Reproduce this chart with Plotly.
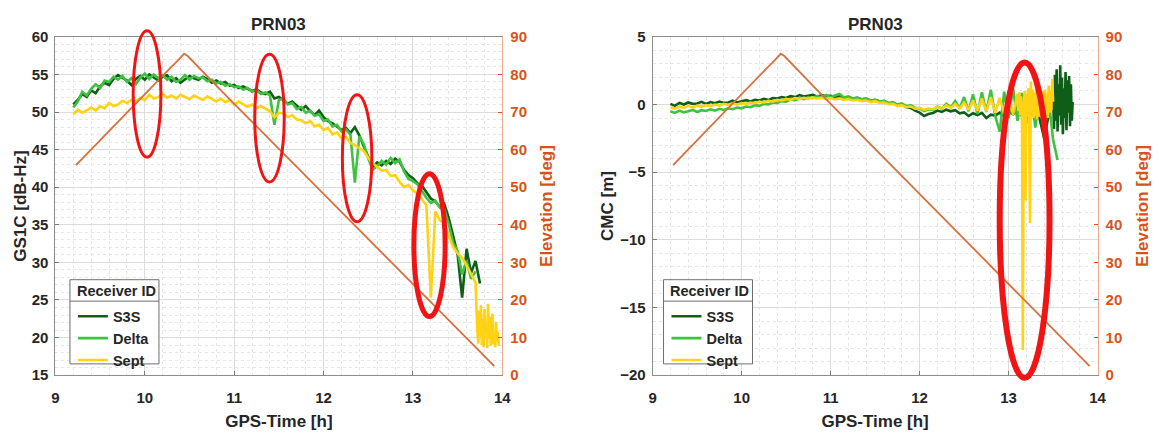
import plotly.graph_objects as go

# ---------------- data ----------------
# sample grids: (start time [h], sampling step [h], values)
GS_S3S = [(9.20, 0.05, [
    51.0, 51.6, 52.4, 52.0, 52.9, 52.5, 53.4, 53.9, 53.6, 54.4,
    54.9, 54.5, 54.2, 53.6, 54.4, 54.8, 54.3, 55.0, 54.6, 54.2,
    54.7, 54.9, 54.1, 54.5, 53.9, 54.4, 54.8, 54.5, 54.3, 54.7,
    54.4, 53.9, 54.2, 53.8, 54.0, 53.5, 53.6, 53.2, 53.4, 53.1,
    52.8, 53.0, 52.6, 52.4, 52.7, 51.8, 52.0, 51.6, 51.1, 51.4,
    50.9, 50.3, 50.8, 50.1, 49.6, 50.2, 49.3, 48.8, 48.5, 48.0,
    47.6, 47.9, 47.2, 48.0, 46.9, 45.4, 44.0, 42.7, 43.3, 42.9,
    43.5, 43.1, 43.8, 43.4, 42.3, 41.6, 41.2, 40.5, 40.2, 39.3,
    38.5, 38.1, 37.4, 37.8, 35.9, 33.5, 31.0, 25.3, 31.8, 28.6,
    30.2, 27.2])]
GS_DELTA = [(9.20, 0.05, [
    50.6, 51.4, 52.7, 52.2, 53.1, 53.7, 53.2, 54.2, 54.0, 54.7,
    54.3, 54.8, 54.0, 54.5, 53.7, 54.6, 55.1, 54.4, 55.0, 54.5,
    54.9, 54.3, 54.7, 54.0, 54.3, 54.9, 54.3, 54.8, 54.5, 54.6,
    54.1, 54.3, 53.8, 54.0, 53.5, 53.7, 53.3, 53.4, 53.0, 53.2,
    52.7, 52.9, 52.4, 52.6, 52.2, 48.3, 51.6, 51.8, 51.0, 51.2,
    50.4, 50.7, 49.9, 50.2, 49.5, 49.7, 48.8, 49.0, 48.1, 48.3,
    47.4, 47.7, 47.0, 40.6, 46.8, 45.7, 43.8, 42.3, 42.8, 43.5,
    43.0, 43.9, 43.2, 43.7, 42.1, 41.1, 40.8, 40.4, 39.5, 38.6,
    37.9, 38.2, 37.3, 37.1, 35.1, 32.6, 31.5, 28.4, 30.2, 27.8,
    28.8])]
GS_SEPT = [(9.20, 0.05, [
    49.7, 50.3, 49.9, 50.2, 50.6, 50.2, 50.8, 50.5, 51.2, 50.8,
    51.0, 51.5, 51.2, 51.6, 51.4, 51.9, 51.6, 52.3, 51.8, 52.0,
    52.4, 51.9, 52.2, 51.8, 52.3, 52.0, 51.7, 52.2, 51.9, 51.6,
    52.1, 51.7, 51.4, 51.8, 51.3, 51.6, 51.0, 51.4, 51.1, 50.7,
    51.0, 50.5, 50.8, 50.4, 50.1, 49.3, 49.9, 49.8, 49.3, 49.6,
    49.0, 48.9, 48.5, 48.8, 48.1, 48.3, 47.6, 47.9, 47.0, 47.3,
    46.5, 46.7, 45.9, 45.6, 45.2, 44.8, 43.9, 43.2, 42.7, 42.2,
    42.3, 41.5, 41.6, 40.7, 40.0, 40.3, 39.6, 39.1, 38.4, 37.6,
    25.3, 36.8, 35.6, 35.3, 33.6, 32.0, 31.2, 30.6, 29.6, 28.4,
    27.3]),
    (13.72, 0.01, [
    21.0, 19.2, 23.6, 20.1, 24.3, 19.0, 22.5, 18.7, 23.8, 20.4, 21.9, 18.6, 24.5, 19.8, 22.8, 18.9,
    21.5, 23.2, 19.1, 20.6, 18.7, 22.1, 19.4, 20.8, 18.9])]

CMC_S3S = [(9.20, 0.05, [
    0.05, -0.10, 0.12, 0.00, 0.15, 0.05, 0.08, 0.20, 0.05, 0.18, 0.10, 0.22, 0.12, 0.15, 0.28, 0.15,
    0.25, 0.32, 0.22, 0.35, 0.30, 0.42, 0.33, 0.48, 0.45, 0.55, 0.48, 0.62, 0.55, 0.70, 0.60, 0.68,
    0.72, 0.58, 0.70, 0.62, 0.65, 0.52, 0.62, 0.48, 0.55, 0.42, 0.50, 0.38, 0.42, 0.28, 0.35, 0.22,
    0.25, 0.10, 0.15, -0.05, 0.02, -0.18, -0.25, -0.45, -0.60, -0.85, -0.70, -0.62, -0.45, -0.55, -0.38, -0.50,
    -0.42, -0.65, -0.58, -0.85, -0.65, -0.78, -0.62, -1.00, -0.75, -0.82, -0.60, -0.88, -0.55, -0.72, -0.45, -0.85,
    -0.40, -0.70, -0.30, -1.10, -2.50, -0.80, 0.60]),
    (13.51, 0.01, [
    -1.8, 2.2, -1.2, 2.6, -2.0, 1.5, -0.8, 2.9, -1.5, 2.0, -2.2, 1.2, -1.0, 2.4, -1.9, 1.8,
    -0.6, 2.1, -1.6, 1.5, -1.2, 0.2])]
CMC_DELTA = [(9.20, 0.05, [
    -0.50, -0.62, -0.45, -0.58, -0.50, -0.40, -0.55, -0.42, -0.48, -0.35, -0.45, -0.32, -0.40, -0.28, -0.35, -0.22,
    -0.28, -0.15, -0.20, -0.05, -0.10, 0.05, 0.00, 0.15, 0.12, 0.25, 0.22, 0.38, 0.32, 0.45, 0.40, 0.55,
    0.48, 0.62, 0.52, 0.70, 0.55, 0.65, 0.78, 0.52, 0.60, 0.45, 0.52, 0.38, 0.45, 0.30, 0.35, 0.22,
    0.28, 0.10, 0.18, 0.00, 0.08, -0.12, -0.05, -0.25, -0.30, -0.48, -0.35, -0.40, -0.15, -0.30, 0.05, -0.20,
    0.25, -0.30, 0.55, -0.50, 0.75, -0.70, 0.90, -0.55, 1.10, -0.85, -2.00, 0.95, -1.00, 1.20, -1.20, 0.85,
    -1.40, 1.00, -1.70, 0.70, -2.10, 0.40, -2.60, -4.10])]
CMC_SEPT = [(9.20, 0.05, [
    -0.20, -0.30, -0.15, -0.25, -0.10, -0.22, -0.08, -0.15, -0.05, -0.12, 0.00, -0.08, 0.05, -0.02, 0.08, 0.00,
    0.10, 0.05, 0.15, 0.10, 0.22, 0.15, 0.28, 0.22, 0.35, 0.30, 0.42, 0.35, 0.48, 0.40, 0.50, 0.42,
    0.52, 0.45, 0.50, 0.40, 0.48, 0.38, 0.45, 0.35, 0.40, 0.30, 0.35, 0.25, 0.30, 0.18, 0.25, 0.12,
    0.15, 0.02, 0.05, -0.10, -0.05, -0.20, -0.15, -0.30, -0.25, -0.40, -0.30, -0.35, -0.15, -0.30, -0.05, -0.25,
    0.05, -0.30, 0.15, -0.40, 0.30, -0.45, 0.45, -0.50, 0.55, -0.60, 0.50, -0.70, 0.65, -0.75, 0.80]),
    (13.11, 0.01, [
    -0.5, 0.9, -0.8, 0.6, -0.6, -18.15, -0.4, 1.0, -7.1, 0.8, -0.9, 1.2, -0.7, -8.76, 1.7, -0.6,
    1.1, -1.0, 0.9, -0.8, 1.2, -1.1, 0.7, -0.9, 1.3, -0.5, 0.9, -1.2, 1.0, -0.7, 1.1, -0.9,
    0.8, -1.0, 1.4, -0.6, 1.0, -0.4, 1.9, 0.2])]

ELEV_T = [9.23, 9.40, 9.60, 9.80, 10.00, 10.10, 10.20, 10.30, 10.36, 10.40, 10.44, 10.48, 10.52,
          10.58, 10.65, 10.80, 11.00, 11.50, 12.00, 12.50, 13.00, 13.50, 13.91]
ELEV_DEG = [55.9, 60.1, 65.0, 69.9, 74.8, 77.3, 79.8, 82.1, 83.5, 84.6, 85.5, 84.9, 83.9,
            82.3, 80.6, 77.0, 72.2, 60.2, 48.2, 36.2, 24.2, 12.2, 2.4]

RECEIVERS = ["S3S", "Delta", "Sept"]
X_TICKS = [9, 10, 11, 12, 13, 14]
GS_TICKS = [15, 20, 25, 30, 35, 40, 45, 50, 55, 60]
CMC_TICKS = [-20, -15, -10, -5, 0, 5]
ELEV_TICKS = [0, 10, 20, 30, 40, 50, 60, 70, 80, 90]

# highlighted regions (time range, value range, stroke)
GS_MARKS = [((9.87, 10.18), (44.0, 60.8), 3), ((11.23, 11.56), (40.7, 57.7), 3),
            ((12.21, 12.54), (35.4, 52.3), 3), ((13.01, 13.36), (22.8, 41.8), 5)]
CMC_MARKS = [((12.90, 13.46), (-20.2, 3.1), 6)]

# ---------------- styling ----------------
COLORS = {"S3S": "#0f5e17", "Delta": "#3fc23f", "Sept": "#ffd214"}
ELEV_COLOR = "#d8703f"
ORANGE = "#d95319"
TXT = "#262626"
FONT = "Liberation Sans"
W, H = 1159, 436
LW = 2.6


def expand(segments):
    t, v = [], []
    for start, step, vals in segments:
        for i, val in enumerate(vals):
            t.append(round(start + i * step, 4))
            v.append(val)
    return t, v


fig = go.Figure()

left = {"S3S": GS_S3S, "Delta": GS_DELTA, "Sept": GS_SEPT}
right = {"S3S": CMC_S3S, "Delta": CMC_DELTA, "Sept": CMC_SEPT}

for name in RECEIVERS:
    t, v = expand(left[name])
    fig.add_trace(go.Scatter(x=t, y=v, mode="lines", name=name, xaxis="x", yaxis="y",
                             line=dict(color=COLORS[name], width=LW), legend="legend"))
fig.add_trace(go.Scatter(x=ELEV_T, y=ELEV_DEG, mode="lines", xaxis="x", yaxis="y2",
                         line=dict(color=ELEV_COLOR, width=1.8), showlegend=False))

for name in RECEIVERS:
    t, v = expand(right[name])
    fig.add_trace(go.Scatter(x=t, y=v, mode="lines", name=name, xaxis="x2", yaxis="y3",
                             line=dict(color=COLORS[name], width=LW), legend="legend2"))
fig.add_trace(go.Scatter(x=ELEV_T, y=ELEV_DEG, mode="lines", xaxis="x2", yaxis="y4",
                         line=dict(color=ELEV_COLOR, width=1.8), showlegend=False))

# geometry in pixels
L_X = (52, 504)
R_X = (656, 1106)
Y_PX = (29, 381)
ydom = [1 - Y_PX[1] / H, 1 - Y_PX[0] / H]

tickfont = dict(family=FONT, size=15, color=TXT, weight="bold")
titlefont = dict(family=FONT, size=17, color=TXT, weight="bold")
otickfont = dict(family=FONT, size=15, color=ORANGE, weight="bold")
otitlefont = dict(family=FONT, size=17, color=ORANGE, weight="bold")


def xax(dom, anchor):
    return dict(domain=dom, anchor=anchor, range=[9, 14], tickvals=X_TICKS, ticks="inside",
                ticklen=4, tickcolor="#7a7a7a", showline=True, linecolor="#8c8c8c", mirror=True,
                showgrid=True, gridcolor="#dcdcdc", gridwidth=1, zeroline=False,
                minor=dict(dtick=0.2, showgrid=True, gridcolor="#e6e6e6", griddash="dot", ticks=""),
                tickfont=tickfont, ticklabelstandoff=9,
                title=dict(text="GPS-Time [h]", font=titlefont, standoff=9))


def yax(rng, ticks, minor, title, anchor, standoff):
    return dict(domain=ydom, anchor=anchor, range=rng, tickvals=ticks, ticks="inside",
                ticklen=4, tickcolor="#7a7a7a", showline=True, linecolor="#8c8c8c",
                showgrid=True, gridcolor="#dcdcdc", zeroline=False,
                minor=dict(dtick=minor, showgrid=True, gridcolor="#e6e6e6", griddash="dot", ticks=""),
                tickfont=tickfont, ticklabelstandoff=3,
                title=dict(text=title, font=titlefont, standoff=standoff))


def eax(overlay, anchor):
    return dict(overlaying=overlay, anchor=anchor, side="right", range=[0, 90], tickvals=ELEV_TICKS,
                ticks="inside", ticklen=4, tickcolor=ORANGE, showline=True, linecolor="#eba98c",
                showgrid=False, zeroline=False, tickfont=otickfont, ticklabelstandoff=4,
                title=dict(text="Elevation [deg]", font=otitlefont, standoff=14))


LEG_FONT = dict(family=FONT, size=14.5, color=TXT, weight="bold")
legend_common = dict(yanchor="top", xanchor="left", bgcolor="rgba(0,0,0,0)", borderwidth=0,
                     font=LEG_FONT, tracegroupgap=0, itemwidth=30)

LEG_BOXES = [(66.7, 281.7), (667.0, 281.7)]   # top-left corners of the legend frames, px
LEG_W, LEG_H, LEG_SEP = 90, 87.6, 22.3

fig.update_layout(
    width=W, height=H, autosize=False, margin=dict(l=0, r=0, t=0, b=0),
    paper_bgcolor="white", plot_bgcolor="white", showlegend=True,
    xaxis=xax([L_X[0] / W, L_X[1] / W], "y"),
    yaxis=yax([15, 60], GS_TICKS, 1, "GS1C [dB-Hz]", "x", 0),
    yaxis2=eax("y", "x"),
    xaxis2=xax([R_X[0] / W, R_X[1] / W], "y3"),
    yaxis3=yax([-20, 5], CMC_TICKS, 1, "CMC [m]", "x2", 2),
    yaxis4=eax("y3", "x2"),
    legend=dict(x=(LEG_BOXES[0][0] + 3) / W, y=1 - (LEG_BOXES[0][1] + 21.5) / H, **legend_common),
    legend2=dict(x=(LEG_BOXES[1][0] + 3) / W, y=1 - (LEG_BOXES[1][1] + 21.5) / H, **legend_common),
)

for xr in ("x", "x2"):
    fig.add_annotation(text="PRN03", xref=xr + " domain", x=0.5, yref="paper", y=1 - 16 / H,
                       showarrow=False, yanchor="middle",
                       font=dict(family=FONT, size=17, color=TXT, weight="bold"))

# legend titles
for lx, ly in LEG_BOXES:
    fig.add_annotation(text="Receiver ID", xref="paper", x=(lx + 5) / W, xanchor="left",
                       yref="paper", y=1 - (ly + 11.5) / H, yanchor="middle", showarrow=False,
                       font=LEG_FONT)


def ellipse(xr, yr, xlim, ylim, trange, vrange, width):
    return dict(type="circle", xref=xr + " domain", yref=yr + " domain", layer="above",
                x0=(trange[0] - xlim[0]) / (xlim[1] - xlim[0]), x1=(trange[1] - xlim[0]) / (xlim[1] - xlim[0]),
                y0=(vrange[0] - ylim[0]) / (ylim[1] - ylim[0]), y1=(vrange[1] - ylim[0]) / (ylim[1] - ylim[0]),
                line=dict(color="#f01414", width=width))


shapes = []
# legend frames (white box, border, separator under the title)
for lx, ly in LEG_BOXES:
    shapes.append(dict(type="rect", xref="paper", yref="paper", layer="above",
                       x0=lx / W, x1=(lx + LEG_W) / W, y0=1 - (ly + LEG_H) / H, y1=1 - ly / H,
                       fillcolor="white", line=dict(color="#6e6e6e", width=1)))
    shapes.append(dict(type="line", xref="paper", yref="paper", layer="above",
                       x0=lx / W, x1=(lx + LEG_W) / W, y0=1 - (ly + LEG_SEP) / H, y1=1 - (ly + LEG_SEP) / H,
                       line=dict(color="#6e6e6e", width=1)))
for tr, vr, w in GS_MARKS:
    shapes.append(ellipse("x", "y", (9, 14), (15, 60), tr, vr, w))
for tr, vr, w in CMC_MARKS:
    shapes.append(ellipse("x2", "y3", (9, 14), (-20, 5), tr, vr, w))
fig.update_layout(shapes=shapes)

fig.write_html("out.html", config={"displayModeBar": False})
